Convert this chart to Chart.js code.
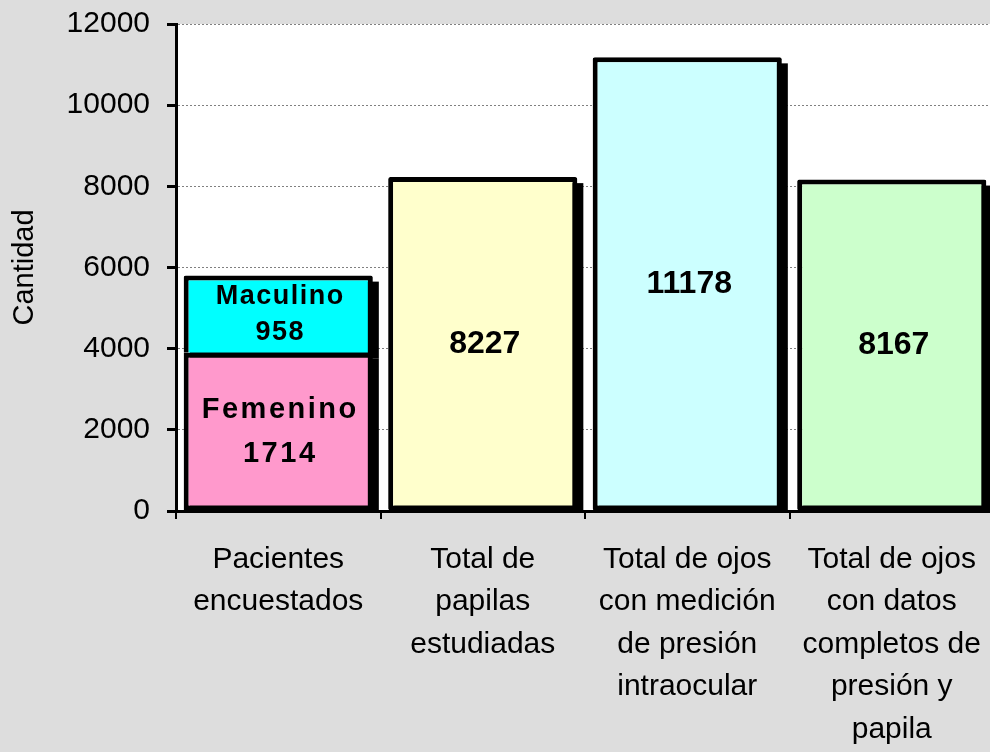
<!DOCTYPE html>
<html lang="es">
<head>
    <meta charset="UTF-8">
    <title>Cantidad</title>
    <script src="https://cdn.jsdelivr.net/npm/chart.js@4.4.0/dist/chart.umd.min.js"></script>
    <style>
        * {
            margin: 0;
            padding: 0;
            box-sizing: border-box;
        }

        body {
            background-color: #dddddd;
            width: 990px;
            height: 752px;
            overflow: hidden;
        }

        #chart {
            display: block;
        }
    </style>
</head>
<body>
    <canvas id="chart" width="994" height="752"></canvas>

    <script>
        // Data
        const categories = [
            ['Pacientes', 'encuestados'],
            ['Total de', 'papilas', 'estudiadas'],
            ['Total de ojos', 'con medición', 'de presión', 'intraocular'],
            ['Total de ojos', 'con datos', 'completos de', 'presión y', 'papila']
        ];
        const femenino = [3900, null, null, null];
        const masculino = [1900, null, null, null];
        const totales = [null, 8227, 11178, 8167];

        const femeninoText = ['Femenino', '1714'];
        const masculinoText = ['Maculino', '958'];
        const totalesText = ['', '8227', '11178', '8167'];

        const yTicks = [0, 2000, 4000, 6000, 8000, 10000, 12000];

        const FONT = "'Liberation Sans', Arial, sans-serif";

        // white plot area
        const plotBackground = {
            id: 'plotBackground',
            beforeDraw(chart) {
                const { ctx, chartArea } = chart;
                ctx.save();
                ctx.fillStyle = '#ffffff';
                ctx.fillRect(chartArea.left, chartArea.top, chartArea.right - chartArea.left, chartArea.bottom - chartArea.top);
                ctx.restore();
            }
        };

        // black drop shadow behind each bar
        const barShadow = {
            id: 'barShadow',
            beforeDatasetsDraw(chart) {
                const { ctx, chartArea } = chart;
                ctx.save();
                ctx.beginPath();
                ctx.rect(chartArea.left, chartArea.top - 10, chartArea.right - chartArea.left + 10, chartArea.bottom - chartArea.top + 10);
                ctx.clip();
                ctx.fillStyle = '#000000';
                chart.data.datasets.forEach((ds, i) => {
                    chart.getDatasetMeta(i).data.forEach((bar, j) => {
                        if (ds.data[j] == null) return;
                        const p = bar.getProps(['x', 'y', 'base', 'width'], true);
                        ctx.fillRect(p.x - p.width / 2 + 6, p.y + 6, p.width, p.base - p.y);
                    });
                });
                ctx.restore();
            }
        };

        // text inside the bars
        const barText = {
            id: 'barText',
            afterDatasetsDraw(chart) {
                const { ctx } = chart;
                const specs = [
                    { texts: [femeninoText, null, null, null], size: 29, gap: 44, spacing: '2.5px' },
                    { texts: [masculinoText, null, null, null], size: 27, gap: 36, spacing: '1.5px' },
                    { texts: totalesText.map(t => t ? [t] : null), size: 32, gap: 0, spacing: '0px' }
                ];
                ctx.save();
                ctx.fillStyle = '#000000';
                ctx.textAlign = 'center';
                ctx.textBaseline = 'middle';
                specs.forEach((spec, i) => {
                    ctx.font = 'bold ' + spec.size + 'px ' + FONT;
                    ctx.letterSpacing = spec.spacing;
                    chart.getDatasetMeta(i).data.forEach((bar, j) => {
                        const lines = spec.texts[j];
                        if (!lines) return;
                        const p = bar.getProps(['x', 'y', 'base'], true);
                        const cy = (p.y + p.base) / 2 - (lines.length - 1) * spec.gap / 2;
                        lines.forEach((line, k) => {
                            ctx.fillText(line, p.x + 2, cy + k * spec.gap);
                        });
                    });
                });
                ctx.restore();
            }
        };

        const common = {
            borderColor: '#000000',
            borderWidth: 5,
            borderRadius: 2,
            barPercentage: 0.925,
            categoryPercentage: 1.0
        };

        new Chart(document.getElementById('chart'), {
            type: 'bar',
            data: {
                labels: categories,
                datasets: [
                    { ...common, label: 'Femenino', data: femenino, backgroundColor: '#ff99cc', borderSkipped: false },
                    { ...common, label: 'Maculino', data: masculino, backgroundColor: '#00ffff', borderSkipped: 'bottom' },
                    { ...common, label: 'Total', data: totales,
                      backgroundColor: ['#ffffff', '#ffffcc', '#ccffff', '#ccffcc'], borderSkipped: false }
                ]
            },
            options: {
                responsive: false,
                animation: false,
                layout: { padding: { top: 24, left: 0, right: 0, bottom: 0 } },
                plugins: {
                    legend: { display: false },
                    tooltip: { enabled: false }
                },
                scales: {
                    x: {
                        stacked: true,
                        afterFit(scale) {
                            scale.height = 241;
                            scale.paddingLeft = 0;
                            scale.paddingRight = 0;
                        },
                        grid: {
                            offset: true,
                            drawOnChartArea: false,
                            color: '#000000',
                            lineWidth: 2,
                            tickLength: 8
                        },
                        border: { color: '#000000', width: 3 },
                        ticks: {
                            color: '#000000',
                            padding: 19,
                            maxRotation: 0,
                            autoSkip: false,
                            font: { family: FONT, size: 30, lineHeight: 1.42 }
                        }
                    },
                    y: {
                        stacked: true,
                        min: 0,
                        max: 12000,
                        afterFit(scale) {
                            scale.width = 176;
                            scale.paddingTop = 0;
                            scale.paddingBottom = 0;
                        },
                        afterBuildTicks(scale) { scale.ticks = yTicks.map(v => ({ value: v })); },
                        grid: {
                            color: '#808080',
                            lineWidth: 1,
                            tickColor: '#000000',
                            tickWidth: 3,
                            tickLength: 9,
                            tickBorderDash: []
                        },
                        border: { color: '#000000', width: 3, dash: [2, 2] },
                        ticks: {
                            color: '#000000',
                            padding: 17,
                            font: { family: FONT, size: 30 },
                            callback: v => String(v)
                        },
                        title: {
                            display: true,
                            text: 'Cantidad',
                            color: '#000000',
                            padding: { top: 8, bottom: 0 },
                            font: { family: FONT, size: 29 }
                        }
                    }
                }
            },
            plugins: [plotBackground, barShadow, barText]
        });
    </script>
</body>
</html>
